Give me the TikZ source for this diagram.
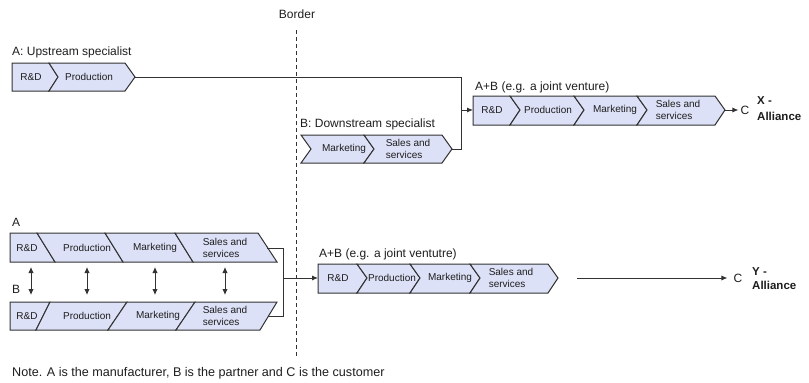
\documentclass[tikz,border=0pt]{standalone}
\usepackage{fontspec}
\setmainfont{Liberation Sans}
\usetikzlibrary{arrows.meta}
\definecolor{segfill}{RGB}{221,225,247}
\definecolor{segline}{RGB}{50,50,50}
\definecolor{txt}{RGB}{30,30,30}
\tikzset{
  seg/.style={draw=segline, fill=segfill, line width=1pt, line join=miter},
  segtxt/.style={font=\fontsize{10}{12.3}\selectfont, text=txt, align=left, inner sep=0pt},
  lbl/.style={font=\fontsize{12}{14}\selectfont, text=txt, anchor=west, inner sep=0pt},
  conn/.style={draw=segline, line width=0.9pt},
  arr/.style={conn, -{Latex[length=6pt,width=5pt]}},
  dbl/.style={conn, {Latex[length=6pt,width=5.5pt]}-{Latex[length=6pt,width=5.5pt]}},
}
\begin{document}
\begin{tikzpicture}[x=1pt,y=-1pt]
	\useasboundingbox (0,0) rectangle (809,383);
	% border
	\node[lbl, anchor=center] (border) at (297,14) {Border};
	\coordinate (bTop) at (296,30);
	\coordinate (bBot) at (296,358);
	\draw[conn, dashed, dash pattern=on 4pt off 3pt] (bTop) -- (bBot);

	% A: upstream specialist
	\node[lbl] (upLbl) at (12,52) {A: Upstream specialist};
	\draw[seg] (12,63) -- (49,63) -- (58,77) -- (49,91) -- (12,91) -- cycle;
	\draw[seg] (49,63) -- (125,63) -- (135,77) -- (125,91) -- (49,91) -- (58,77) -- cycle;
	\node[segtxt] (upRD) at (31,77) {R\&D};
	\node[segtxt] (upProd) at (89,77) {Production};
	\coordinate (upTip) at (135,77);

	% B: downstream specialist
	\node[lbl] (downLbl) at (300,124) {B: Downstream specialist};
	\draw[seg] (301,135) -- (364,135) -- (374,149) -- (364,163) -- (301,163) -- (311,149) -- cycle;
	\draw[seg] (364,135) -- (442,135) -- (452,149) -- (442,163) -- (364,163) -- (374,149) -- cycle;
	\node[segtxt] (downMkt) at (344,149) {Marketing};
	\node[segtxt] (downSales) at (408,149) {Sales and\\services};
	\coordinate (downTip) at (452,149);

	% A+B, X - alliance
	\node[lbl] (xLbl) at (475,87) {A+B (e.g. a joint venture)};
	\draw[seg] (473,96) -- (510,96) -- (520,110) -- (510,125) -- (473,125) -- cycle;
	\draw[seg] (510,96) -- (574,96) -- (584,110) -- (574,125) -- (510,125) -- (520,110) -- cycle;
	\draw[seg] (574,96) -- (637,96) -- (647,110) -- (637,125) -- (574,125) -- (584,110) -- cycle;
	\draw[seg] (637,96) -- (715,96) -- (725,110) -- (715,125) -- (637,125) -- (647,110) -- cycle;
	\node[segtxt] (xRD) at (492,110) {R\&D};
	\node[segtxt] (xProd) at (548,110) {Production};
	\node[segtxt] (xMkt) at (615,110) {Marketing};
	\node[segtxt] (xSales) at (678,110) {Sales and\\services};
	\coordinate (xIn) at (473,110);
	\coordinate (xTip) at (725,110);
	\coordinate (xBend) at (461,149);
	\coordinate (xSplit) at (461,110);
	\node[lbl, anchor=center] (xC) at (745,110) {C};
	\node[lbl, font=\fontsize{11.5}{16}\selectfont\bfseries, align=left] (xAll) at (757,109) {X -\\Alliance};

	\draw[conn] (upTip) -| (xBend) -- (downTip);
	\draw[arr] (xSplit) -- (xIn);
	\draw[arr, shorten >=2pt] (xTip) -- (xC.west);

	% A and B separately
	\node[lbl] (aLbl) at (12,222) {A};
	\draw[seg] (10,233) -- (37,233) -- (55,262) -- (10,262) -- cycle;
	\draw[seg] (37,233) -- (105,233) -- (123,262) -- (55,262) -- cycle;
	\draw[seg] (105,233) -- (175,233) -- (193,262) -- (123,262) -- cycle;
	\draw[seg] (175,233) -- (258,233) -- (277,262) -- (193,262) -- cycle;
	\node[segtxt] (aRD) at (27,248) {R\&D};
	\node[segtxt] (aProd) at (87,248) {Production};
	\node[segtxt] (aMkt) at (155,248) {Marketing};
	\node[segtxt] (aSales) at (225,248) {Sales and\\services};
	\coordinate (aEnd) at (267,248);

	\node[lbl] (bLbl) at (12,289) {B};
	\draw[seg] (10,302) -- (50,302) -- (36,330) -- (10,330) -- cycle;
	\draw[seg] (50,302) -- (127,302) -- (108,330) -- (36,330) -- cycle;
	\draw[seg] (127,302) -- (195,302) -- (176,330) -- (108,330) -- cycle;
	\draw[seg] (195,302) -- (277,302) -- (260,330) -- (176,330) -- cycle;
	\node[segtxt] (bRD) at (27,316) {R\&D};
	\node[segtxt] (bProd) at (87,316) {Production};
	\node[segtxt] (bMkt) at (158,316) {Marketing};
	\node[segtxt] (bSales) at (225,316) {Sales and\\services};
	\coordinate (bEnd) at (268,316);

	\draw[dbl] (31,267) -- (31,295);
	\draw[dbl] (87,267) -- (87,295);
	\draw[dbl] (155,267) -- (155,295);
	\draw[dbl] (225,267) -- (225,295);

	% A+B, Y - alliance
	\node[lbl] (yLbl) at (319,254) {A+B (e.g. a joint ventutre)};
	\draw[seg] (318,264) -- (357,264) -- (367,278) -- (357,293) -- (318,293) -- cycle;
	\draw[seg] (357,264) -- (410,264) -- (420,278) -- (410,293) -- (357,293) -- (367,278) -- cycle;
	\draw[seg] (410,264) -- (470,264) -- (480,278) -- (470,293) -- (410,293) -- (420,278) -- cycle;
	\draw[seg] (470,264) -- (548,264) -- (558,278) -- (548,293) -- (470,293) -- (480,278) -- cycle;
	\node[segtxt] (yRD) at (338,278) {R\&D};
	\node[segtxt] (yProd) at (392,278) {Production};
	\node[segtxt] (yMkt) at (450,278) {Marketing};
	\node[segtxt] (ySales) at (511,278) {Sales and\\services};
	\coordinate (yIn) at (318,278);
	\coordinate (yJoin) at (283,278);
	\coordinate (yBend) at (283,316);
	\coordinate (yFrom) at (577,278);
	\node[lbl, anchor=center] (yC) at (738,278) {C};
	\node[lbl, font=\fontsize{11.5}{14}\selectfont\bfseries, align=left] (yAll) at (752,279) {Y -\\Alliance};

	\draw[conn] (aEnd) -| (yBend) -- (bEnd);
	\draw[arr] (yJoin) -- (yIn);
	\draw[arr, shorten >=6pt] (yFrom) -- (yC.west);

	% note
	\node[lbl, font=\fontsize{12.6}{15}\selectfont] (note) at (12,373) {Note. A is the manufacturer, B is the partner and C is the customer};
\end{tikzpicture}
\end{document}
